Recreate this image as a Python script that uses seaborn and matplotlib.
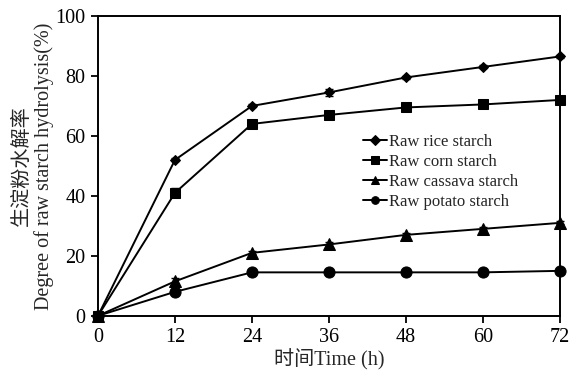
import matplotlib
matplotlib.use("Agg")
import matplotlib.pyplot as plt
import seaborn as sns
import pandas as pd
import numpy as np

time_h = [0, 12, 24, 36, 48, 60, 72]
rice = [0, 52, 70, 74.5, 79.5, 83, 86.5]
corn = [0, 41, 64, 67, 69.5, 70.5, 72]
cassava = [0, 11.5, 21, 23.8, 27, 29, 31]
potato = [0, 8, 14.5, 14.5, 14.5, 14.5, 15]
rice_err = [0, 0.5, 0.5, 1.2, 0.5, 0.5, 0.5]
corn_err = [0, 1.5, 0.5, 0.5, 0.5, 0.5, 0.5]
cassava_err = [0, 1.2, 0.5, 0.8, 0.5, 0.5, 0.5]
potato_err = [0, 0.5, 0.3, 0.3, 0.3, 0.3, 0.3]
labels = ["Raw rice starch", "Raw corn starch", "Raw cassava starch", "Raw potato starch"]
xticks = [0, 12, 24, 36, 48, 60, 72]
yticks = [0, 20, 40, 60, 80, 100]

sns.set_style("ticks")
plt.rcParams['font.family'] = ['Liberation Serif', 'Noto Sans CJK SC']

fig = plt.figure(figsize=(5.73, 3.72), dpi=100)
ax = fig.add_axes([0.171, 0.151, 0.806, 0.806])

series = [(rice, rice_err, 'D', 5.5), (corn, corn_err, 's', 7),
          (cassava, cassava_err, '^', 8), (potato, potato_err, 'o', 8)]
for (vals, err, mk, ms), lab in zip(series, labels):
    df = pd.DataFrame({"t": time_h, "v": vals})
    sns.lineplot(data=df, x="t", y="v", ax=ax, color='black', lw=1.4,
                 marker=mk, markersize=ms, markeredgecolor='black',
                 markerfacecolor='black', label=lab, clip_on=False, zorder=3)
    ax.errorbar(time_h, vals, yerr=err, fmt='none', ecolor='black',
                elinewidth=1.0, capsize=3, capthick=1.0, clip_on=False, zorder=2)

ax.set_xlim(0, 72)
ax.set_ylim(0, 100)
ax.set_xticks(xticks)
ax.set_yticks(yticks)
ax.tick_params(direction='out', length=5, width=1.3, labelsize=14.5, colors='black', pad=4)
for s in ax.spines.values():
    s.set_visible(True)
    s.set_linewidth(1.4)
    s.set_color('black')

ax.set_xlabel("时间Time (h)", fontsize=14.5, labelpad=1)
ax.set_ylabel("生淀粉水解率\nDegree of raw starch hydrolysis(%)", fontsize=14.5,
              linespacing=1.15, labelpad=1)

leg = ax.legend(loc='upper left', bbox_to_anchor=(0.56, 0.63), frameon=False,
                fontsize=12, handlelength=1.4, handletextpad=0.15,
                labelspacing=0.25, borderaxespad=0)
for h in leg.legend_handles:
    h.set_markersize(5.5)

fig.savefig("out.png", dpi=100)
